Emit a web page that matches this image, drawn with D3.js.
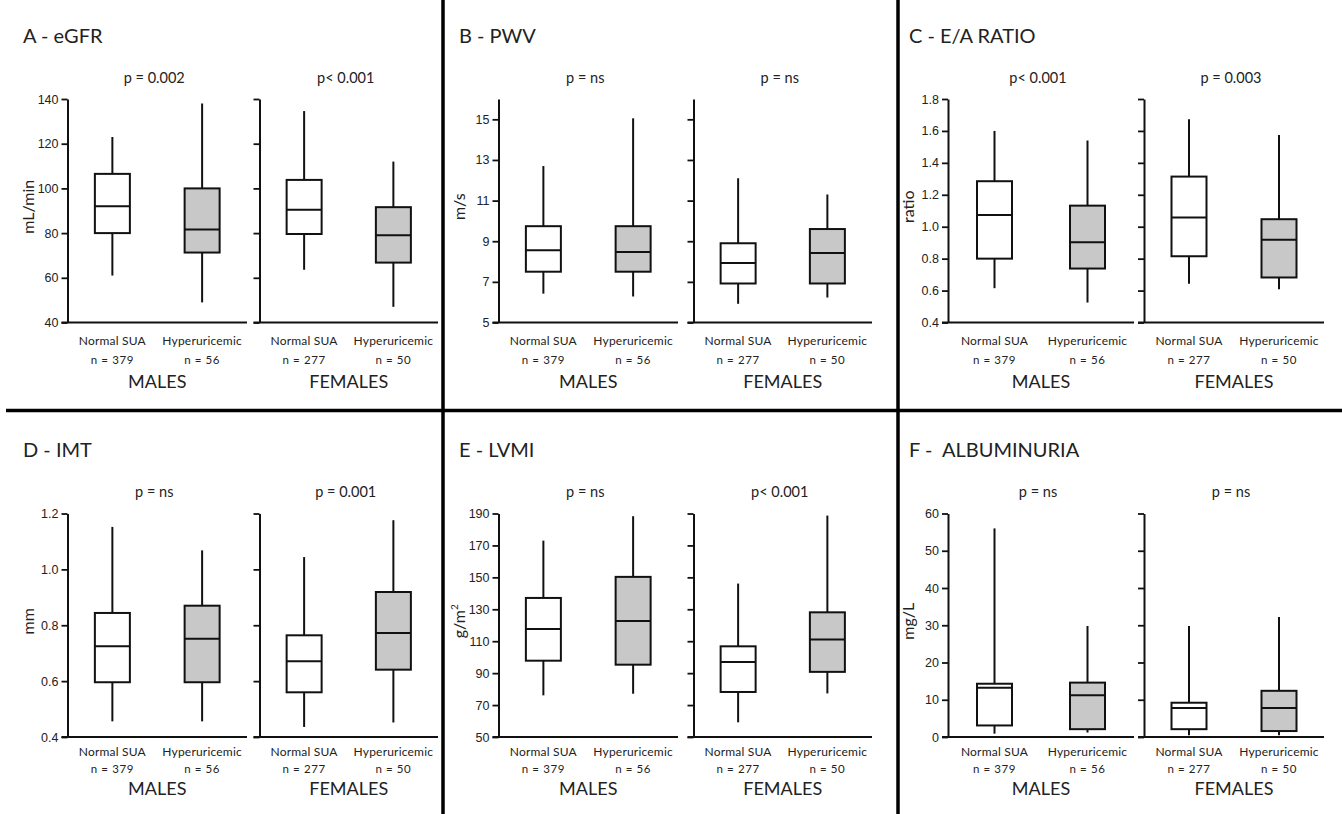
<!DOCTYPE html>
<html>
<head>
<meta charset="utf-8">
<script src="https://cdn.jsdelivr.net/npm/d3@7"></script>
<style>
  html, body { margin: 0; padding: 0; background: #fff; }
  svg { display: block; font-family: Lato, "Open Sans", "DejaVu Sans", sans-serif; }
</style>
</head>
<body>
<svg id="chart" width="1342" height="814"></svg>
<script>
// ---- data ----------------------------------------------------------------
const panelTitles = ["A - eGFR", "B - PWV", "C - E/A RATIO", "D - IMT", "E - LVMI", "F -  ALBUMINURIA"];
const yLabels = ["mL/min", "m/s", "ratio", "mm", "g/m²", "mg/L"];
const yDomains = [[40, 140], [5, 16], [0.4, 1.8], [0.4, 1.2], [50, 190], [0, 60]];
const yTicks = [
  [40, 60, 80, 100, 120, 140],
  [5, 7, 9, 11, 13, 15],
  [0.4, 0.6, 0.8, 1.0, 1.2, 1.4, 1.6, 1.8],
  [0.4, 0.6, 0.8, 1.0, 1.2],
  [50, 70, 90, 110, 130, 150, 170, 190],
  [0, 10, 20, 30, 40, 50, 60]
];
const tickFormats = ["d", "d", ".1f", ".1f", "d", "d"];
const groups = ["Normal SUA", "Hyperuricemic"];
const sexes = ["MALES", "FEMALES"];
const maleN = ["n = 379", "n = 56"];
const femaleN = ["n = 277", "n = 50"];
const pMales = ["p = 0.002", "p = ns", "p< 0.001", "p = ns", "p = ns", "p = ns"];
const pFemales = ["p< 0.001", "p = ns", "p = 0.003", "p = 0.001", "p< 0.001", "p = ns"];

// box statistics per group: [low whisker, Q1, median, Q3, high whisker]
const egfrMales     = [[61, 80, 92, 106.5, 123], [49, 71.3, 81.6, 100, 138]];
const egfrFemales   = [[63.6, 79.6, 90.5, 103.8, 134.6], [47, 66.8, 79, 91.6, 112]];
const pwvMales      = [[6.42, 7.5, 8.55, 9.74, 12.7], [6.28, 7.5, 8.47, 9.74, 15.05]];
const pwvFemales    = [[5.92, 6.92, 7.93, 8.9, 12.1], [6.23, 6.92, 8.42, 9.6, 11.3]];
const eaMales       = [[0.615, 0.8, 1.074, 1.285, 1.6], [0.525, 0.738, 0.903, 1.132, 1.54]];
const eaFemales     = [[0.642, 0.815, 1.057, 1.314, 1.673], [0.609, 0.682, 0.918, 1.047, 1.575]];
const imtMales      = [[0.456, 0.596, 0.725, 0.844, 1.152], [0.456, 0.596, 0.752, 0.87, 1.068]];
const imtFemales    = [[0.436, 0.56, 0.671, 0.764, 1.044], [0.452, 0.641, 0.772, 0.919, 1.176]];
const lvmiMales     = [[76.1, 97.8, 117.7, 137.1, 173], [77.1, 95.3, 122.7, 150.3, 188.3]];
const lvmiFemales   = [[59.2, 78.2, 97, 106.8, 146.1], [77.3, 90.8, 111, 128.1, 188.7]];
const albMales      = [[0.9, 3.1, 13.2, 14.3, 56], [1.2, 2.1, 11.2, 14.6, 29.8]];
const albFemales    = [[0.5, 2.1, 7.8, 9.2, 29.8], [0.5, 1.6, 7.8, 12.4, 32.2]];

const maleStats = [egfrMales, pwvMales, eaMales, imtMales, lvmiMales, albMales];
const femaleStats = [egfrFemales, pwvFemales, eaFemales, imtFemales, lvmiFemales, albFemales];

// ---- layout --------------------------------------------------------------
const columns = [
  { titleX: 23,  male: [67.5, 247],  female: [259.5, 438] },
  { titleX: 459, male: [498.5, 678], female: [693.5, 872] },
  { titleX: 909, male: [948, 1134],  female: [1144, 1324] }
];
const rows = [
  { titleY: 43,  pY: 83,  top: 99,    bottom: 322.5, catY: 345, nY: 364, sexY: 388 },
  { titleY: 457, pY: 497, top: 513.5, bottom: 737,   catY: 756, nY: 773, sexY: 795 }
];
const boxW = 35;
const fills = ["#ffffff", "#c8c8c8"];
const ink = "#111";
const textInk = "#222";

const svg = d3.select("#chart");
svg.append("rect").attr("width", 1342).attr("height", 814).attr("fill", "#fff");

function drawHalf(g, x0, x1, y, stats, nLabels, sexLabel, pLabel, showLabels, row, fmt) {
  const x = d3.scalePoint().domain(groups).range([x0, x1]).padding(0.5);

  // y axis
  const axis = d3.axisLeft(y).tickSize(6).tickSizeOuter(0).tickPadding(3)
    .tickValues(yTicks[g.datum()]).tickFormat(showLabels ? d3.format(fmt) : () => "");
  const ag = g.append("g").attr("transform", `translate(${x0},0)`).call(axis);
  ag.select(".domain").attr("stroke", ink).attr("stroke-width", 2);
  ag.selectAll(".tick line").attr("stroke", ink).attr("stroke-width", 1.8);
  ag.selectAll(".tick text").attr("fill", textInk).attr("font-size", 12.5);

  // x baseline
  g.append("line")
    .attr("x1", x0 - 6).attr("x2", x1)
    .attr("y1", y.range()[0]).attr("y2", y.range()[0])
    .attr("stroke", ink).attr("stroke-width", 2);

  // boxes
  const box = g.selectAll(".box").data(groups).join("g").attr("class", "box");
  box.append("line")
    .attr("x1", d => x(d)).attr("x2", d => x(d))
    .attr("y1", (d, i) => y(stats[i][0])).attr("y2", (d, i) => y(stats[i][4]))
    .attr("stroke", ink).attr("stroke-width", 2);
  box.append("rect")
    .attr("x", d => x(d) - boxW / 2).attr("width", boxW)
    .attr("y", (d, i) => y(stats[i][3]))
    .attr("height", (d, i) => y(stats[i][1]) - y(stats[i][3]))
    .attr("fill", (d, i) => fills[i]).attr("stroke", ink).attr("stroke-width", 2);
  box.append("line")
    .attr("x1", d => x(d) - boxW / 2).attr("x2", d => x(d) + boxW / 2)
    .attr("y1", (d, i) => y(stats[i][2])).attr("y2", (d, i) => y(stats[i][2]))
    .attr("stroke", ink).attr("stroke-width", 2);

  // category and count labels
  box.append("text")
    .attr("x", d => x(d)).attr("y", row.catY)
    .attr("text-anchor", "middle").attr("font-size", 12).attr("letter-spacing", 0.2)
    .attr("fill", textInk).text(d => d);
  box.append("text")
    .attr("x", d => x(d)).attr("y", row.nY)
    .attr("text-anchor", "middle").attr("font-size", 11.5).attr("letter-spacing", 0.6)
    .attr("fill", textInk).text((d, i) => nLabels[i]);

  const mid = (x0 + x1) / 2;
  g.append("text").attr("x", mid).attr("y", row.sexY)
    .attr("text-anchor", "middle").attr("font-size", 18).attr("fill", textInk).text(sexLabel);
  g.append("text").attr("x", mid - 3).attr("y", row.pY)
    .attr("text-anchor", "middle").attr("font-size", 14.5).attr("fill", textInk).text(pLabel);
}

panelTitles.forEach((title, k) => {
  const col = columns[k % 3];
  const row = rows[Math.floor(k / 3)];
  const y = d3.scaleLinear().domain(yDomains[k]).range([row.bottom, row.top]);
  const g = svg.append("g").datum(k);

  g.append("text").attr("x", col.titleX).attr("y", row.titleY)
    .attr("font-size", 20).attr("fill", textInk).attr("xml:space", "preserve").text(title);

  // y-axis label
  const ly = (row.top + row.bottom) / 2 - 4;
  const lx = col.male[0] - 34;
  const lab = g.append("text")
    .attr("transform", `translate(${lx},${ly}) rotate(-90)`)
    .attr("text-anchor", "middle").attr("font-size", 16).attr("fill", textInk);
  if (yLabels[k] === "g/m²") {
    lab.text("g/m");
    lab.append("tspan").attr("font-size", 10).attr("dy", -7).text("2");
  } else {
    lab.text(yLabels[k]);
  }

  const gm = g.append("g").datum(k);
  drawHalf(gm, col.male[0], col.male[1], y, maleStats[k], maleN, sexes[0], pMales[k], true, row, tickFormats[k]);
  const gf = g.append("g").datum(k);
  drawHalf(gf, col.female[0], col.female[1], y, femaleStats[k], femaleN, sexes[1], pFemales[k], false, row, tickFormats[k]);
});

// panel dividers
const dividers = svg.append("g").attr("stroke", "#000").attr("stroke-width", 3.5);
dividers.append("line").attr("x1", 6).attr("x2", 1342).attr("y1", 410.5).attr("y2", 410.5);
[443, 898].forEach(xv => {
  dividers.append("line").attr("x1", xv).attr("x2", xv).attr("y1", 0).attr("y2", 814);
});
</script>
</body>
</html>
